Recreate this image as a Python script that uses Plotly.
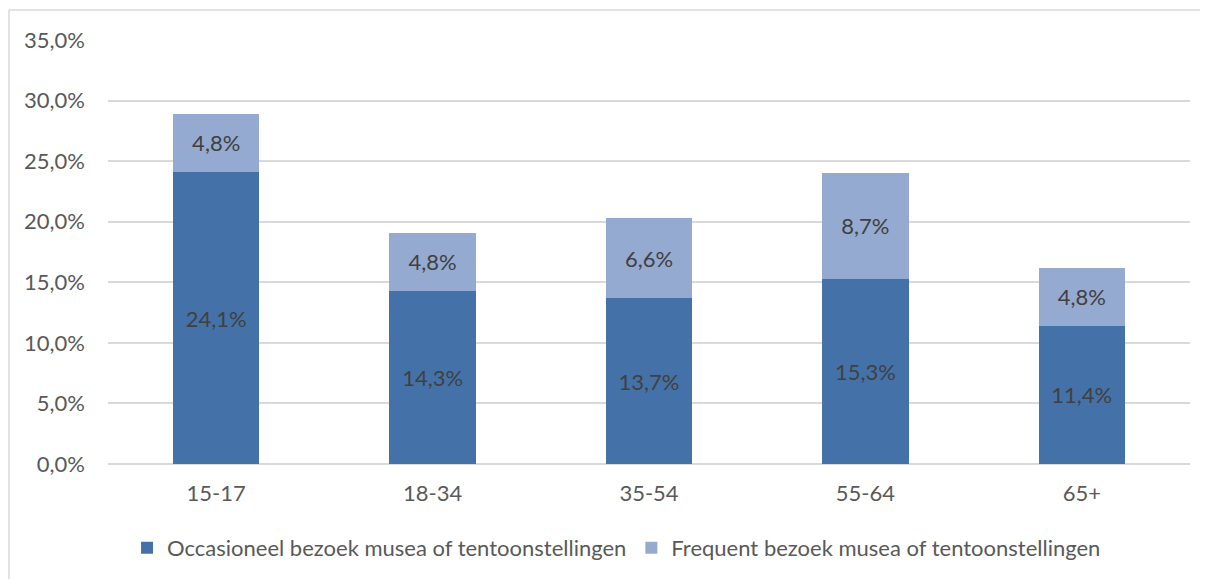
import plotly.graph_objects as go

categories = ["15-17", "18-34", "35-54", "55-64", "65+"]
occasioneel = [24.1, 14.3, 13.7, 15.3, 11.4]
frequent = [4.8, 4.8, 6.6, 8.7, 4.8]
tick_vals = [0, 5, 10, 15, 20, 25, 30, 35]
tick_labels = ["0,0%", "5,0%", "10,0%", "15,0%", "20,0%", "25,0%", "30,0%", "35,0%"]

FONT = "Lato, Carlito, Calibri, sans-serif"
FS = 22

fig = go.Figure()
fig.add_trace(go.Bar(
    x=categories, y=occasioneel, name="Occasioneel bezoek musea of tentoonstellingen",
    marker=dict(color="#4472A8", line=dict(width=0)),
    texttemplate="%{y:.1f}%", textposition="inside", insidetextanchor="middle",
    textfont=dict(family=FONT, size=FS, color="#404040"), textangle=0,
))
fig.add_trace(go.Bar(
    x=categories, y=frequent, name="Frequent bezoek musea of tentoonstellingen",
    marker=dict(color="#95AAD0", line=dict(width=0)),
    texttemplate="%{y:.1f}%", textposition="inside", insidetextanchor="middle",
    textfont=dict(family=FONT, size=FS, color="#404040"), textangle=0,
))

fig.update_layout(
    barmode="stack",
    bargap=0.6,
    width=1200, height=571,
    margin=dict(l=100, r=18, t=32, b=115, autoexpand=False),
    paper_bgcolor="white", plot_bgcolor="white",
    separators=", ",
    font=dict(family=FONT, size=FS, color="#595959"),
    uniformtext=dict(mode="show", minsize=10),
    legend=dict(orientation="h", x=0.47, xanchor="center", y=-0.198, yanchor="middle",
                font=dict(family=FONT, size=FS, color="#595959"),
                traceorder="normal"),
    showlegend=True,
)
fig.update_yaxes(range=[0, 35], tickvals=tick_vals, ticktext=tick_labels,
                 showgrid=True, gridcolor="#D9D9D9", gridwidth=1.5, zeroline=True,
                 zerolinecolor="#D9D9D9", zerolinewidth=1.5, showline=False,
                 ticks="", ticklabelstandoff=22,
                 tickfont=dict(family=FONT, size=FS, color="#595959"))
fig.update_xaxes(showgrid=False, showline=False, ticks="",
                 tickfont=dict(family=FONT, size=FS, color="#595959"), ticklabelstandoff=14)

# chart-area border (top and left edges visible in the reference)
fig.add_shape(type="line", xref="paper", yref="paper",
              x0=-0.0915, x1=1.1, y0=1.0708, y1=1.0708,
              line=dict(color="#D9D9D9", width=1.5), layer="below")
fig.add_shape(type="line", xref="paper", yref="paper",
              x0=-0.0915, x1=-0.0915, y0=-0.35, y1=1.0708,
              line=dict(color="#D9D9D9", width=1.5), layer="below")

fig.write_html("out.html")
